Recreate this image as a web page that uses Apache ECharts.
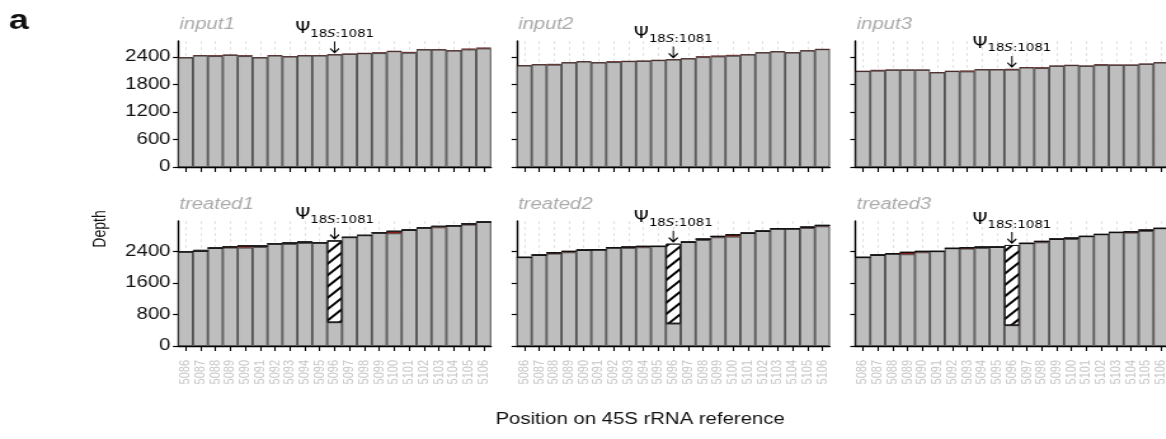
<!DOCTYPE html>
<html>
<head>
<meta charset="utf-8">
<title>Depth around Ψ18S:1081</title>
<script src="https://cdn.jsdelivr.net/npm/echarts@6/dist/echarts.min.js"></script>
<style>
  html, body { margin: 0; padding: 0; background: #ffffff; overflow: hidden; width: 1166px; height: 439px; }
  /* the figure is laid out on a narrower canvas and widened to the page */
  #chart { width: 920px; height: 439px; transform: scaleX(1.27); transform-origin: 0 0; }
</style>
</head>
<body>
<div id="chart"></div>
<script>
// Positions on the 45S rRNA reference
const positions = ['5086','5087','5088','5089','5090','5091','5092','5093','5094','5095','5096',
                   '5097','5098','5099','5100','5101','5102','5103','5104','5105','5106'];
const psiPosition = '5096';

// Total read depth per position
const input1Depth   = [2386,2430,2437,2444,2437,2386,2430,2408,2430,2430,2451,2466,2480,2502,2524,2509,2560,2560,2538,2582,2604];
const input2Depth   = [2212,2234,2248,2277,2299,2277,2306,2306,2313,2328,2343,2364,2415,2430,2444,2451,2495,2517,2495,2538,2567];
const input3Depth   = [2089,2118,2118,2118,2118,2060,2089,2103,2125,2125,2140,2169,2176,2205,2219,2205,2241,2226,2226,2248,2277];
const treated1Depth = [2392,2442,2484,2518,2543,2535,2594,2611,2636,2619,2670,2755,2805,2873,2907,2940,3000,3033,3050,3101,3143];
const treated2Depth = [2248,2307,2366,2400,2434,2442,2493,2510,2527,2527,2594,2636,2712,2780,2822,2864,2915,2974,2974,3016,3059];
const treated3Depth = [2248,2307,2341,2375,2400,2400,2476,2493,2510,2510,2560,2603,2653,2712,2737,2780,2830,2881,2898,2940,2983];

// Mismatched reads (red caps)
const input1Mismatch   = [0,0,20,0,20,0,0,0,0,0,0,0,0,20,0,20,0,0,0,20,20];
const input2Mismatch   = [0,0,20,0,0,0,20,0,0,0,0,0,20,20,20,0,0,0,0,0,0];
const input3Mismatch   = [0,20,0,0,0,0,0,20,0,0,20,0,20,0,0,0,20,0,0,0,0];
const treated1Mismatch = [0,0,0,25,50,25,0,25,25,0,0,0,0,0,50,0,0,25,0,25,0];
const treated2Mismatch = [0,0,25,25,0,0,0,25,25,0,0,0,25,25,50,0,0,0,0,25,25];
const treated3Mismatch = [0,0,0,50,25,0,0,25,25,0,0,0,25,0,25,0,0,0,25,25,0];

// Reads stopping at the site (hatched part)
const treated1Stop = [0,0,0,0,0,0,0,0,0,0,2070,0,0,0,0,0,0,0,0,0,0];
const treated2Stop = [0,0,0,0,0,0,0,0,0,0,2026,0,0,0,0,0,0,0,0,0,0];
const treated3Stop = [0,0,0,0,0,0,0,0,0,0,2035,0,0,0,0,0,0,0,0,0,0];

// Deleted bases (white caps)
const treated1Deletion = [0,30,0,0,0,0,0,0,0,0,0,0,0,0,0,0,0,0,0,0,0];

// Depth axis ticks per row
const inputTicks   = [0, 600, 1200, 1800, 2400];
const treatedTicks = [0, 800, 1600, 2400];
const inputMax = 2748;
const treatedMax = 3170;

const panels = [
  { title: 'input1',   depth: input1Depth,   mis: input1Mismatch,   stop: null,         del: null,             row: 0, col: 0 },
  { title: 'input2',   depth: input2Depth,   mis: input2Mismatch,   stop: null,         del: null,             row: 0, col: 1 },
  { title: 'input3',   depth: input3Depth,   mis: input3Mismatch,   stop: null,         del: null,             row: 0, col: 2 },
  { title: 'treated1', depth: treated1Depth, mis: treated1Mismatch, stop: treated1Stop, del: treated1Deletion, row: 1, col: 0 },
  { title: 'treated2', depth: treated2Depth, mis: treated2Mismatch, stop: treated2Stop, del: null,             row: 1, col: 1 },
  { title: 'treated3', depth: treated3Depth, mis: treated3Mismatch, stop: treated3Stop, del: null,             row: 1, col: 2 }
];

// Layout of the 3 x 2 panel grid (canvas units, before widening)
const colLeft = [140.2, 406.9, 673.5];
const colWidth = 246.5;
const rowTop = [41, 221];
const rowHeight = [126, 125];

const sans = '"Liberation Sans", Arial, sans-serif';
const dejavu = '"DejaVu Sans", sans-serif';
const zeros = positions.map(() => 0);
const psiIndex = positions.indexOf(psiPosition);

const grids = [], xAxes = [], yAxes = [], series = [], graphics = [];

panels.forEach((p, i) => {
  const ticks = p.row === 0 ? inputTicks : treatedTicks;
  const stop = p.stop || zeros;
  const del = p.del || zeros;
  const base = p.depth.map((d, k) => d - p.mis[k] - stop[k] - del[k]);

  grids.push({ left: colLeft[p.col], top: rowTop[p.row], width: colWidth, height: rowHeight[p.row], containLabel: false });

  xAxes.push({
    type: 'category', gridIndex: i, data: positions, boundaryGap: true,
    axisLine: { show: true, lineStyle: { color: '#000', width: 1.4 } },
    axisTick: { show: true, alignWithLabel: true, length: 5, lineStyle: { color: '#000', width: 1.1 } },
    axisLabel: { show: p.row === 1, interval: 0, rotate: 90, color: '#c6c6c6', fontSize: 11, margin: 14, fontFamily: sans },
    splitLine: { show: true, alignWithLabel: true, lineStyle: { color: '#dcdcdc', type: [3, 3], width: 0.8 } }
  });

  yAxes.push({
    type: 'value', gridIndex: i, min: 0, max: p.row === 0 ? inputMax : treatedMax,
    interval: p.row === 0 ? 600 : 800,
    axisLine: { show: true, lineStyle: { color: '#000', width: 1.4 } },
    axisTick: { show: true, length: 4, customValues: ticks, lineStyle: { color: '#000', width: 1.2 } },
    axisLabel: {
      show: p.col === 0, customValues: ticks, color: '#111', fontSize: 16, margin: 6, fontFamily: sans,
      formatter: (v) => String(v)
    },
    splitLine: { show: true, showMinLine: false, showMaxLine: false, lineStyle: { color: '#dcdcdc', type: [3, 3], width: 0.8 } }
  });

  const barCommon = { type: 'bar', xAxisIndex: i, yAxisIndex: i, stack: 'depth' + i, barCategoryGap: '0%', silent: true };

  series.push(Object.assign({}, barCommon, {
    name: 'match', data: base,
    itemStyle: { color: '#bebebe', borderColor: '#2e2e2e', borderWidth: 0.8 }
  }));
  series.push(Object.assign({}, barCommon, {
    name: 'mismatch', data: p.mis,
    itemStyle: { color: '#a3231b', borderColor: '#3a0d0a', borderWidth: 0.5 }
  }));
  if (p.stop) {
    series.push(Object.assign({}, barCommon, {
      name: 'stop', data: stop,
      itemStyle: {
        color: '#ffffff', borderColor: '#111', borderWidth: 0.8,
        decal: { symbol: 'rect', symbolSize: 1, dashArrayX: [1, 0], dashArrayY: [1.6, 5.4], rotation: -Math.PI / 4, color: '#000' }
      }
    }));
  }
  if (p.del) {
    series.push(Object.assign({}, barCommon, {
      name: 'deletion', data: del,
      itemStyle: { color: '#ffffff', borderColor: '#222', borderWidth: 0.8 }
    }));
  }

  // Arrow and label marking the pseudouridine site
  series.push({
    type: 'scatter', xAxisIndex: i, yAxisIndex: i, silent: true, z: 5,
    data: [[psiIndex, p.depth[psiIndex]]],
    symbol: 'path://M4,0 L4,12 M0.5,7.5 L4,12 L7.5,7.5',
    symbolSize: [7, 11], symbolOffset: [0, -7.5],
    itemStyle: { color: 'rgba(0,0,0,0)', borderColor: '#000', borderWidth: 1.2, opacity: 1 },
    label: {
      show: true, position: 'top', distance: 1,
      formatter: '{p|Ψ}{s|18}{i|S}{s|:1081}',
      rich: {
        p: { fontFamily: dejavu, fontSize: 15, color: '#000', verticalAlign: 'bottom', lineHeight: 18, padding: [0, 0, 3, 0] },
        s: { fontFamily: dejavu, fontSize: 10.5, color: '#000', verticalAlign: 'bottom', lineHeight: 13 },
        i: { fontFamily: dejavu, fontSize: 10.5, fontStyle: 'italic', color: '#000', verticalAlign: 'bottom', lineHeight: 13 }
      }
    }
  });

  graphics.push({
    type: 'text', x: colLeft[p.col] + 1, y: rowTop[p.row] - 16, silent: true,
    style: { text: p.title, fontFamily: sans, fontSize: 16, fontStyle: 'italic', fill: '#ababab', align: 'left', verticalAlign: 'middle' }
  });
});

graphics.push({
  type: 'text', x: 7, y: 21, silent: true,
  style: { text: 'a', fontFamily: sans, fontSize: 28, fontWeight: 'bold', fill: '#111', align: 'left', verticalAlign: 'middle' }
});
graphics.push({
  type: 'text', x: 79.5, y: 229, rotation: Math.PI / 2, silent: true,
  style: { text: 'Depth', fontFamily: sans, fontSize: 14, fill: '#111', align: 'center', verticalAlign: 'middle' }
});
graphics.push({
  type: 'text', x: 504, y: 420, silent: true,
  style: { text: 'Position on 45S rRNA reference', fontFamily: sans, fontSize: 16, fill: '#111', align: 'center', verticalAlign: 'middle' }
});

const chart = echarts.init(document.getElementById('chart'), null, { renderer: 'canvas' });
chart.setOption({
  animation: false,
  backgroundColor: '#ffffff',
  grid: grids,
  xAxis: xAxes,
  yAxis: yAxes,
  series: series,
  graphic: graphics
});
</script>
</body>
</html>
